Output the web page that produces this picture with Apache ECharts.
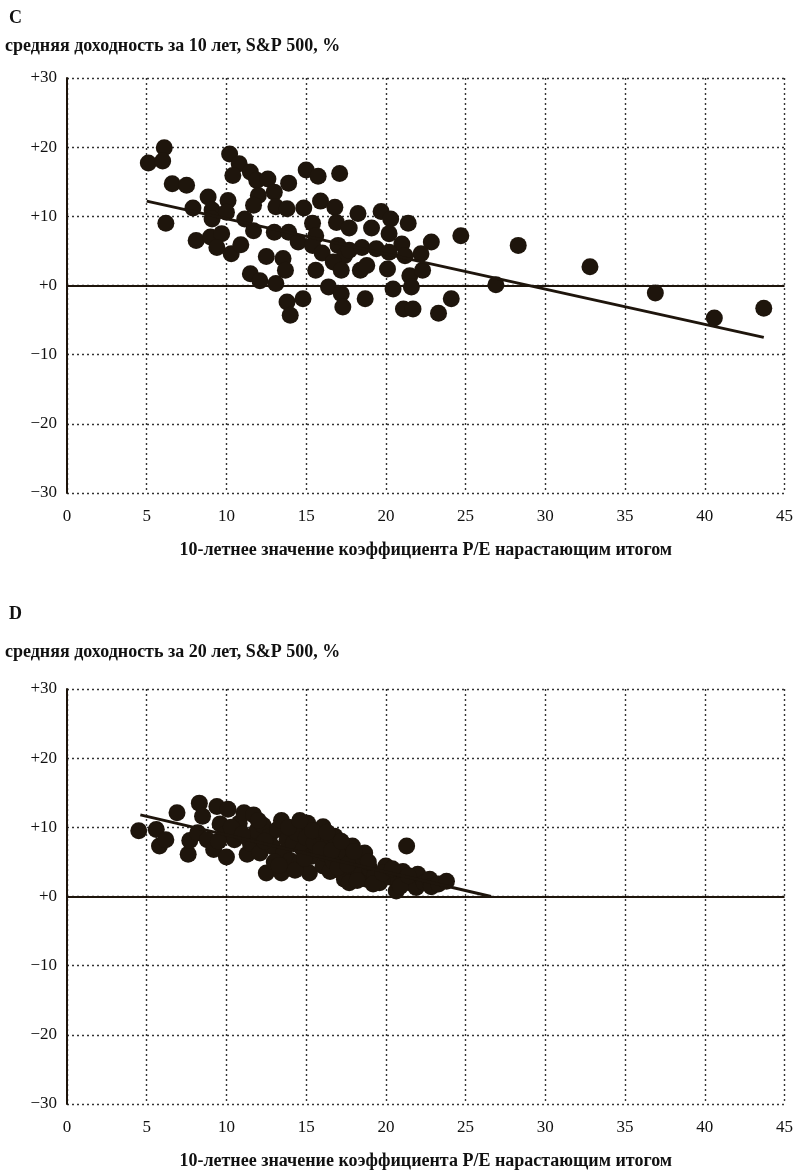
<!DOCTYPE html>
<html><head><meta charset="utf-8">
<script src="https://cdn.jsdelivr.net/npm/echarts@6/dist/echarts.min.js"></script>
<style>html,body{margin:0;padding:0;background:#fff}#c{width:796px;height:1171px}</style>
</head><body><div id="c"></div>
<script>
const xTicks = [0,5,10,15,20,25,30,35,40,45];
const yTicks = [-30,-20,-10,0,10,20,30];
const titleC = 'C';
const subC = 'средняя доходность за 10 лет, S&P 500, %';
const titleD = 'D';
const subD = 'средняя доходность за 20 лет, S&P 500, %';
const xName = '10-летнее значение коэффициента P/E нарастающим итогом';

const pointsC = [
[5.1,17.7],[6.1,19.9],[6.0,18.0],[6.6,14.7],[7.5,14.5],[6.2,9.0],[7.9,11.2],[8.85,12.8],[9.1,10.9],[9.1,9.6],
[10.1,12.3],[10.0,10.6],[8.1,6.5],[9.0,7.0],[9.7,7.5],[9.4,5.5],[10.3,4.6],[10.9,5.9],[10.2,19.0],[10.8,17.6],
[10.4,15.9],[11.5,16.4],[11.9,15.2],[12.6,15.4],[13.9,14.8],[13.0,13.5],[12.0,13.0],[11.7,11.6],[13.1,11.4],[13.8,11.1],
[14.85,11.2],[15.0,16.7],[15.75,15.8],[17.1,16.2],[15.9,12.2],[16.8,11.3],[11.15,9.6],[11.7,7.9],[13.0,7.7],[13.9,7.7],
[14.5,6.3],[15.4,9.0],[15.6,7.2],[16.9,9.1],[15.4,5.8],[16.0,4.7],[17.0,5.8],[17.4,4.3],[12.5,4.2],[13.55,3.9],
[13.7,2.2],[15.6,2.2],[11.5,1.7],[12.1,0.7],[13.1,0.3],[16.4,-0.2],[17.2,-1.2],[13.8,-2.4],[14.8,-1.9],[14.0,-4.3],
[17.3,-3.1],[18.25,10.4],[19.7,10.7],[20.3,9.6],[21.4,9.0],[17.7,8.3],[19.1,8.3],[20.2,7.5],[24.7,7.2],[22.85,6.3],
[21.0,6.0],[22.2,4.6],[17.7,5.1],[18.5,5.5],[19.4,5.3],[20.2,4.8],[21.2,4.3],[16.7,3.4],[17.2,2.2],[18.4,2.2],
[18.8,2.9],[20.1,2.4],[21.5,1.4],[22.3,2.2],[21.6,-0.2],[20.45,-0.5],[18.7,-1.9],[21.1,-3.4],[21.7,-3.4],[23.3,-4.0],
[24.1,-1.9],[26.9,0.1],[28.3,5.8],[32.8,2.7],[36.9,-1.1],[40.6,-4.7],[43.7,-3.3]
];
const trendC = [[5.0,12.2],[43.7,-7.5]];

const pointsD = [
[4.5,9.5],[5.6,9.7],[5.8,7.3],[6.2,8.2],[6.9,12.1],[7.6,6.1],[7.7,8.1],[8.2,9.2],[8.3,13.5],[8.5,11.6],
[8.8,8.2],[9.2,6.8],[9.4,13.0],[9.6,10.5],[9.9,9.0],[10.0,5.7],[10.1,12.6],[10.5,8.2],[10.8,10.6],[11.1,12.1],
[11.3,6.1],[11.5,7.7],[11.7,11.8],[11.9,9.5],[12.1,6.3],[12.3,10.3],[12.5,3.4],[12.7,8.7],[12.9,7.2],[13.2,9.7],
[13.45,11.0],[13.45,3.4],[13.6,6.3],[13.8,8.2],[14.0,5.2],[14.2,7.7],[14.4,9.2],[14.6,4.9],[14.8,6.8],[15.1,10.6],
[15.0,8.5],[15.2,3.4],[15.3,5.8],[15.5,7.8],[15.8,9.4],[16.06,10.1],[16.06,4.4],[16.2,6.2],[16.4,8.0],[16.5,3.6],
[16.7,5.1],[16.8,8.7],[16.9,5.8],[17.1,7.0],[17.3,3.4],[17.4,2.5],[17.5,6.3],[17.7,2.0],[17.9,7.3],[17.9,5.3],
[18.1,4.2],[18.3,3.0],[18.5,5.6],[18.67,6.3],[18.8,2.5],[19.0,4.0],[19.3,3.0],[19.6,2.0],[20.0,4.4],[20.3,2.8],
[20.65,0.8],[20.8,2.3],[21.07,3.6],[21.3,7.3],[21.5,2.0],[21.9,1.3],[22.0,3.2],[22.4,2.0],[22.75,2.5],[22.85,1.4],
[23.3,1.8],[23.8,2.2],
[13.0,5.0],[13.9,10.0],[14.3,3.8],[14.9,5.5],[15.4,9.5],[15.9,6.8],[16.3,9.3],[16.6,6.6],[17.0,4.2],[17.2,8.0],
[17.6,4.6],[18.0,6.5],[18.2,2.3],[18.9,5.0],[19.2,1.8],[19.8,3.4],[20.4,4.0],[20.9,1.5],[21.4,3.0],[12.0,11.0],
[12.4,8.0],[10.3,10.0],[11.0,9.0],[9.5,8.0],[14.6,11.0],[13.3,4.5]
];
const trendD = [[4.6,11.8],[26.6,0]];

const ink = '#1e150c';
const serif = 'Liberation Serif';
function yFmt(v){ return v > 0 ? '+' + v : (v < 0 ? '\u2212' + Math.abs(v) : '+0'); }

function xAxis(idx){
  return {
    gridIndex: idx, type: 'value', min: xTicks[0], max: xTicks[xTicks.length-1], interval: 5,
    axisLine: {show: false}, axisTick: {show: false},
    axisLabel: {color: '#111', fontFamily: serif, fontSize: 17, margin: 15},
    splitLine: {show: true, lineStyle: {type: [2,3], color: '#333', width: 1.4}},
    name: xName, nameLocation: 'middle', nameGap: 48,
    nameTextStyle: {color: '#111', fontFamily: serif, fontWeight: 'bold', fontSize: 18}
  };
}
function yAxis(idx){
  return {
    gridIndex: idx, type: 'value', min: yTicks[0], max: yTicks[yTicks.length-1], interval: 10,
    axisLine: {show: true, lineStyle: {color: ink, width: 2}},
    axisTick: {show: false},
    axisLabel: {color: '#111', fontFamily: serif, fontSize: 17, margin: 10, formatter: yFmt},
    splitLine: {show: true, lineStyle: {type: [2,3], color: '#333', width: 1.4}}
  };
}
function scatter(idx, data){
  return {
    type: 'scatter', xAxisIndex: idx, yAxisIndex: idx, data: data, symbolSize: 17,
    itemStyle: {color: ink, opacity: 1}, z: 3,
    markLine: {silent: true, symbol: 'none', label: {show: false},
      lineStyle: {color: ink, width: 2, type: 'solid'}, data: [{yAxis: 0}]}
  };
}
function trend(idx, data){
  return {type: 'line', xAxisIndex: idx, yAxisIndex: idx, data: data, symbol: 'none',
    lineStyle: {color: ink, width: 3}, z: 4};
}

const chart = echarts.init(document.getElementById('c'), null, {renderer: 'canvas'});
chart.setOption({
  animation: false,
  backgroundColor: '#fff',
  title: [
    {text: titleC, left: 4, top: 4, textStyle: {fontFamily: serif, fontWeight: 'bold', fontSize: 18, color: '#111'}},
    {text: subC, left: 0, top: 32, textStyle: {fontFamily: serif, fontWeight: 'bold', fontSize: 18, color: '#111'}},
    {text: titleD, left: 4, top: 600, textStyle: {fontFamily: serif, fontWeight: 'bold', fontSize: 18, color: '#111'}},
    {text: subD, left: 0, top: 638, textStyle: {fontFamily: serif, fontWeight: 'bold', fontSize: 18, color: '#111'}}
  ],
  grid: [
    {left: 67, right: 11, top: 78, height: 415},
    {left: 67, right: 11, top: 689, height: 416}
  ],
  xAxis: [xAxis(0), xAxis(1)],
  yAxis: [yAxis(0), yAxis(1)],
  series: [scatter(0, pointsC), trend(0, trendC), scatter(1, pointsD), trend(1, trendD)]
});
</script></body></html>
